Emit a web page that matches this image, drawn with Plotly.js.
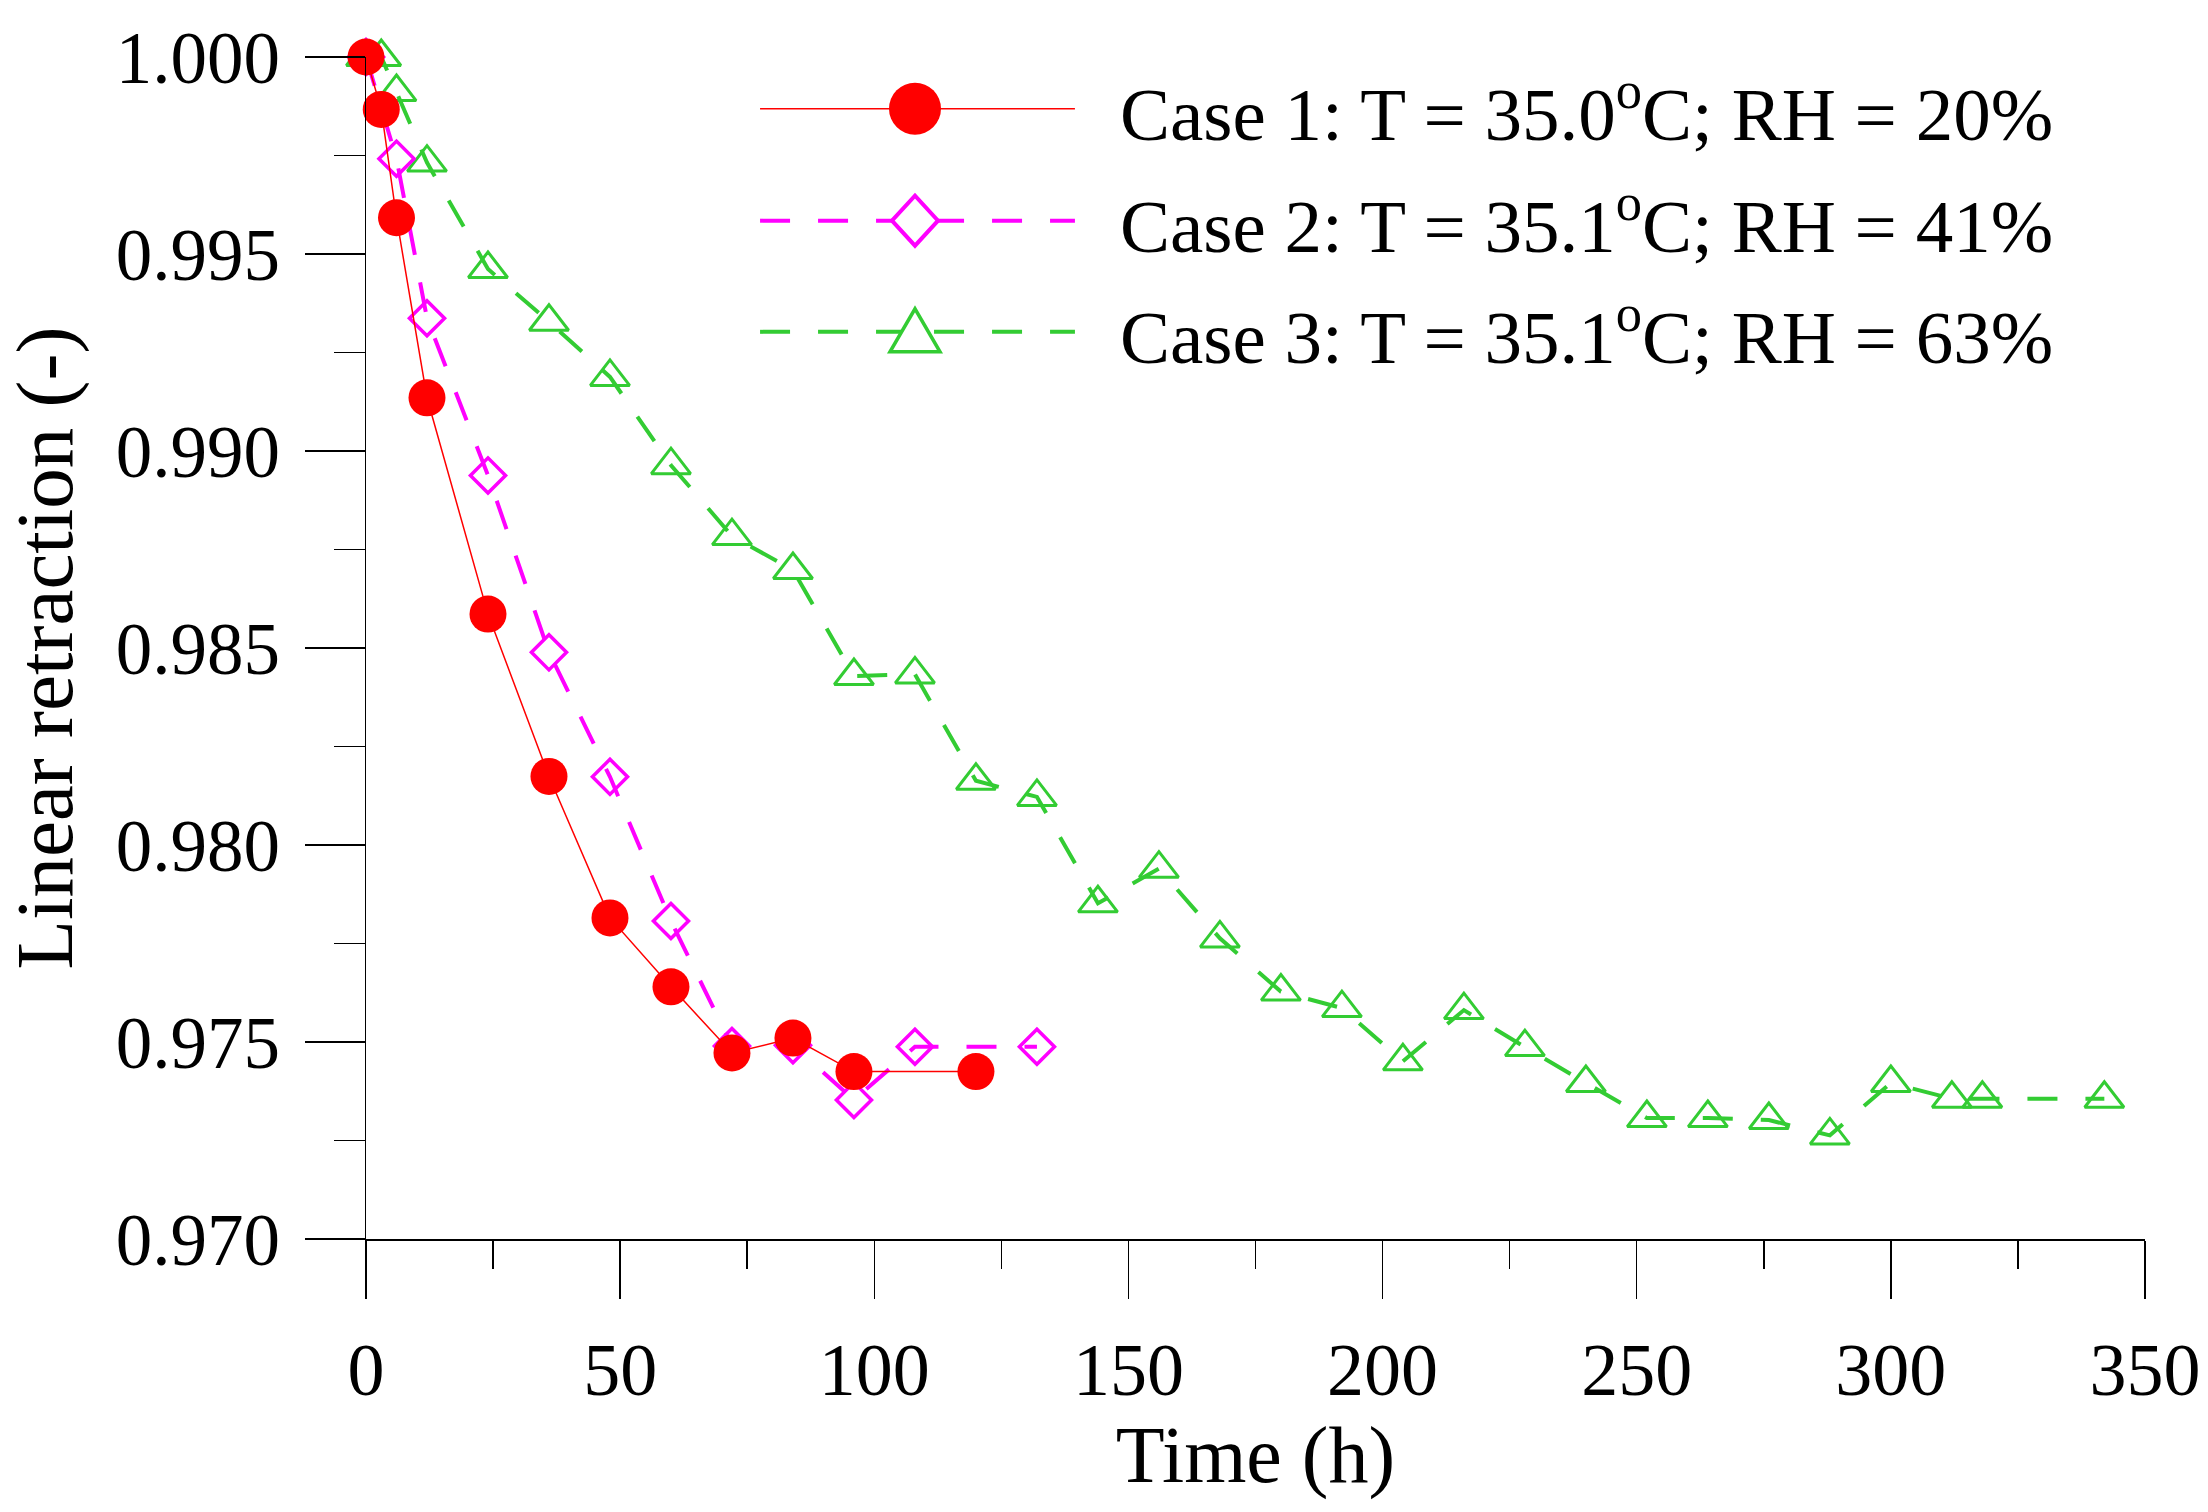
<!DOCTYPE html>
<html>
<head>
<meta charset="utf-8">
<script src="https://cdn.plot.ly/plotly-3.0.1.min.js"></script>
<style>
html,body{margin:0;padding:0;background:#fff;}
#chart{width:2208px;height:1512px;}
</style>
</head>
<body>
<div id="chart"></div>
<script>
// ---- data ----
const case1Time = [0, 3, 6, 12, 24, 36, 48, 60, 72, 84, 96, 120];
const case1Retraction = [1.0000, 0.99867, 0.99592, 0.99135, 0.98586, 0.98174, 0.97815, 0.97640, 0.97472, 0.97510, 0.97425, 0.97425];

const case2Time = [0, 6, 12, 24, 36, 48, 60, 72, 84, 96, 108, 132];
const case2Retraction = [1.0000, 0.99742, 0.99337, 0.98938, 0.98489, 0.98173, 0.97807, 0.97490, 0.97492, 0.97353, 0.97488, 0.97488];

const case3Time = [0, 3, 6, 12, 24, 36, 48, 60, 72, 84, 96, 108, 120, 132, 144, 156, 168, 180, 192, 204, 216, 228, 240, 252, 264, 276, 288, 300, 312, 318, 342];
const case3Retraction = [1.0000, 1.0000, 0.99911, 0.99732, 0.99462, 0.99328, 0.99188, 0.98964, 0.98784, 0.98698, 0.98429, 0.98433, 0.98163, 0.98122, 0.97852, 0.97940, 0.97763, 0.97628, 0.97586, 0.97451, 0.97581, 0.97487, 0.97396, 0.97307, 0.97307, 0.97302, 0.97263, 0.97396, 0.97356, 0.97356, 0.97356];

const seriesNames = [
  'Case 1: T = 35.0<sup>o</sup>C; RH = 20%',
  'Case 2: T = 35.1<sup>o</sup>C; RH = 41%',
  'Case 3: T = 35.1<sup>o</sup>C; RH = 63%'
];

const xTitle = 'Time (h)';
const yTitle = 'Linear retraction (-)';

// ---- styles ----
const FONT = 'Liberation Serif, Times New Roman, serif';
const RED = '#ff0000', MAG = '#ff00ff', GRN = '#33cc33';
const DASH = '30px,28px';

const traces = [
  {
    x: case3Time, y: case3Retraction, name: seriesNames[2], type: 'scatter', mode: 'lines+markers',
    line: {color: GRN, width: 4, dash: DASH},
    marker: {symbol: 'triangle-up-open', size: 34, color: GRN, line: {color: GRN, width: 3}},
    cliponaxis: false
  },
  {
    x: case2Time, y: case2Retraction, name: seriesNames[1], type: 'scatter', mode: 'lines+markers',
    line: {color: MAG, width: 4, dash: DASH},
    marker: {symbol: 'diamond-open', size: 27, color: MAG, line: {color: MAG, width: 3.5}},
    cliponaxis: false
  },
  {
    x: case1Time, y: case1Retraction, name: seriesNames[0], type: 'scatter', mode: 'lines+markers',
    line: {color: RED, width: 1.5},
    marker: {symbol: 'circle', size: 37, color: RED},
    cliponaxis: false
  }
];

// ---- custom legend (long sample lines like the reference) ----
const legRowsY = [0.9563, 0.8615, 0.7675];
const legLineX0 = 0.2215, legLineX1 = 0.3985, legMarkX = 0.3086, legTextX = 0.4227;
const legColors = [RED, MAG, GRN];
const legWidths = [1.5, 4, 4];
const legDash = ['solid', DASH, DASH];

const shapes = [];
const annotations = [];
for (let i = 0; i < 3; i++) {
  shapes.push({type: 'line', xref: 'paper', yref: 'paper', x0: legLineX0, x1: legLineX1, y0: legRowsY[i], y1: legRowsY[i],
    line: {color: legColors[i], width: legWidths[i], dash: legDash[i]}});
  annotations.push({xref: 'paper', yref: 'paper', x: legTextX, y: legRowsY[i], xanchor: 'left', yanchor: 'middle',
    text: seriesNames[i], showarrow: false, font: {family: FONT, size: 75, color: '#000'}});
}
// legend symbols (pixel-sized shapes anchored at the sample centre)
shapes.push({type: 'circle', xref: 'paper', yref: 'paper', xsizemode: 'pixel', ysizemode: 'pixel',
  xanchor: legMarkX, yanchor: legRowsY[0], x0: -26, x1: 26, y0: -26, y1: 26,
  fillcolor: RED, line: {color: RED, width: 0}});
shapes.push({type: 'path', xref: 'paper', yref: 'paper', xsizemode: 'pixel', ysizemode: 'pixel',
  xanchor: legMarkX, yanchor: legRowsY[1], path: 'M -23 0 L 0 25 L 23 0 L 0 -25 Z',
  fillcolor: '#ffffff', line: {color: MAG, width: 4}});
shapes.push({type: 'path', xref: 'paper', yref: 'paper', xsizemode: 'pixel', ysizemode: 'pixel',
  xanchor: legMarkX, yanchor: legRowsY[2], path: 'M -25 -20 L 25 -20 L 0 23 Z',
  fillcolor: '#ffffff', line: {color: GRN, width: 3.5}});

const layout = {
  width: 2208, height: 1512,
  margin: {l: 366, r: 63, t: 57, b: 273},
  paper_bgcolor: '#fff', plot_bgcolor: '#fff',
  showlegend: false,
  font: {family: FONT, color: '#000'},
  xaxis: {
    range: [0, 350], tick0: 0, dtick: 50,
    showgrid: false, zeroline: false,
    showline: true, linecolor: '#000', linewidth: 1.5,
    ticks: 'outside', ticklen: 58, tickwidth: 1.5, tickcolor: '#000',
    minor: {dtick: 25, ticks: 'outside', ticklen: 28, tickwidth: 1.5, tickcolor: '#000', showgrid: false},
    tickfont: {family: FONT, size: 74, color: '#000'},
    ticklabelstandoff: 8,
    title: {text: xTitle, font: {family: FONT, size: 80, color: '#000'}, standoff: 10},
    automargin: false
  },
  yaxis: {
    range: [0.970, 1.000], tick0: 0.970, dtick: 0.005, tickformat: '.3f',
    showgrid: false, zeroline: false,
    showline: true, linecolor: '#000', linewidth: 1.5,
    ticks: 'outside', ticklen: 60, tickwidth: 1.5, tickcolor: '#000',
    minor: {dtick: 0.0025, ticks: 'outside', ticklen: 31, tickwidth: 1.5, tickcolor: '#000', showgrid: false},
    tickfont: {family: FONT, size: 73, color: '#000'},
    ticklabelstandoff: 10,
    title: {text: yTitle, font: {family: FONT, size: 81, color: '#000'}, standoff: 34},
    automargin: false
  },
  shapes: shapes,
  annotations: annotations
};

Plotly.newPlot('chart', traces, layout, {staticPlot: true, displayModeBar: false});
</script>
</body>
</html>
